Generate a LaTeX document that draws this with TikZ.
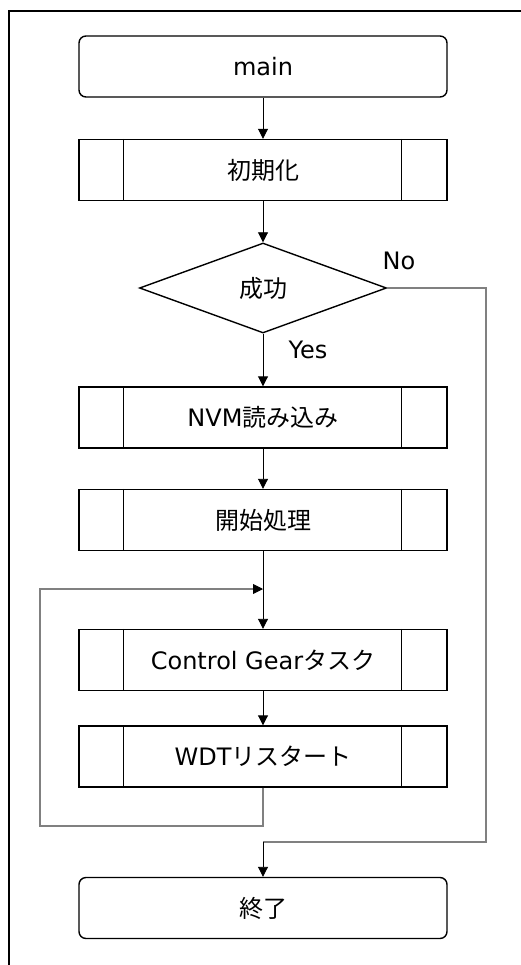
\documentclass[tikz,border=0pt]{standalone}
\usepackage{fontspec}
\setmainfont{DejaVu Sans}
\newfontfamily\jp{Noto Sans CJK JP}
\usetikzlibrary{shapes.geometric,arrows.meta}
\tikzset{
  txt/.style={font=\fontsize{24}{27}\selectfont},
  box/.style={draw=black,line width=1.4pt,minimum width=368pt,minimum height=61pt,inner sep=0pt,txt},
  term/.style={box,rounded corners=7pt},
  proc/.style={box},
  dec/.style={draw=black,line width=1.4pt,diamond,minimum width=247pt,minimum height=90pt,inner sep=0pt,txt},
  flow/.style={line width=0.9pt,-{Triangle[width=10pt,length=10pt]}},
  back/.style={draw=gray,line width=1.2pt},
  lbl/.style={txt,inner sep=0pt},
}
\newcommand{\subbars}[1]{%
  \draw[line width=1.4pt] ([xshift=45pt]#1.north west) -- ([xshift=45pt]#1.south west);
  \draw[line width=1.4pt] ([xshift=-46pt]#1.north east) -- ([xshift=-46pt]#1.south east);}
\begin{document}
\begin{tikzpicture}[x=1pt,y=-1pt]
\useasboundingbox (0,0) rectangle (520,965);
\draw[line width=2pt] (9,966) -- (9,11) -- (521,11);
\node[term] (main) at (263,66.5) {main};
\node[proc] (init) at (263,170) {\jp 初期化};
\subbars{init}
\node[dec] (ok) at (263,288) {\jp 成功};
\node[proc] (nvm) at (263,417.5) {NVM{\jp 読み込み}};
\subbars{nvm}
\node[proc] (begin) at (263,520) {\jp 開始処理};
\subbars{begin}
\coordinate (join) at (263,589);
\node[proc] (cg) at (263,660) {Control Gear{\jp タスク}};
\subbars{cg}
\node[proc] (wdt) at (263,756.5) {WDT{\jp リスタート}};
\subbars{wdt}
\node[term] (fin) at (263,908) {\jp 終了};
\coordinate (lb) at (263,826);
\coordinate (ll) at (40,826);
\coordinate (lt) at (40,589);
\coordinate (nr) at (486,288);
\coordinate (nb) at (486,842);
\coordinate (nm) at (263,842);
\node[lbl] (no) at (399,261) {No};
\node[lbl] (yes) at (308,350) {Yes};

\draw[flow] (main) -- (init);
\draw[flow] (init) -- (ok);
\draw[flow] (ok) -- (nvm);
\draw[flow] (nvm) -- (begin);
\draw[line width=0.9pt] (begin) -- (join);
\draw[flow] (join) -- (cg);
\draw[flow] (cg) -- (wdt);
\draw[back] (wdt.south) -- (lb) -- (ll) -- (lt) -- ([xshift=-10pt]join);
\draw[flow] (lt) ++(213,0) -- (join);
\draw[back] (ok.east) -- (nr) -- (nb) -- (nm);
\draw[flow] (nm) -- (fin);
\end{tikzpicture}
\end{document}
